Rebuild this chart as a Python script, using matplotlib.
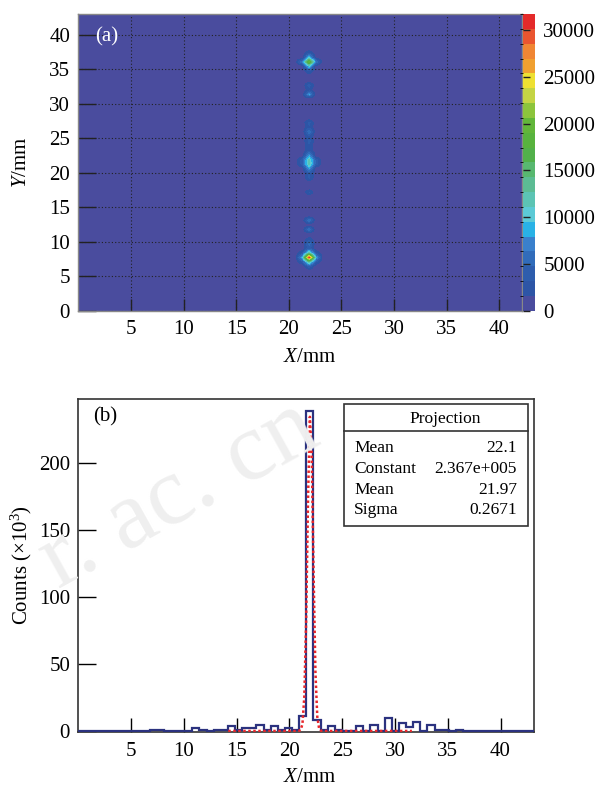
import numpy as np
import matplotlib
matplotlib.use("Agg")
import matplotlib.pyplot as plt
from matplotlib.colors import ListedColormap, BoundaryNorm
from matplotlib.patches import Rectangle

plt.rcParams['font.family'] = ['Liberation Serif', 'DejaVu Serif']
plt.rcParams['mathtext.fontset'] = 'custom'
plt.rcParams['mathtext.rm'] = 'Liberation Serif'
plt.rcParams['mathtext.it'] = 'Liberation Serif:italic'

# ---------------- data ----------------
n_bins = 64
bin_width = 0.675  # mm

# 2D map (a): non-background cells (column index, row index, counts)
spot_col = [32, 32, 32, 31, 33, 32, 32, 31, 33, 31, 33,
            32, 32, 32, 31, 33, 32, 32,
            32, 32, 32, 32, 32, 32, 31, 33, 31, 33,
            32, 32, 32, 32, 32, 32, 32, 32, 32, 32, 32, 32, 32, 32, 32]
spot_row = [11, 10, 12, 11, 11, 9, 13, 10, 10, 12, 12,
            53, 52, 54, 53, 53, 51, 55,
            31, 32, 30, 33, 29, 34, 31, 31, 32, 32,
            46, 48, 47, 38, 40, 39, 36, 37, 35, 28, 25, 19, 17, 14, 15]
spot_val = [31500, 13000, 13000, 9000, 9000, 4000, 4000, 3000, 3000, 3000, 3000,
            21000, 10000, 10000, 7000, 7000, 3500, 3000,
            12500, 12000, 8000, 8000, 3500, 3000, 4000, 4000, 4000, 4000,
            8500, 4200, 2500, 6500, 4000, 3000, 4000, 3000, 3000, 3500, 3500,
            7000, 6500, 6000, 2500]
background_level = 400
map_vmax = 31700
cbar_ticks = [0, 5000, 10000, 15000, 20000, 25000, 30000]
palette = ['#4a4c9e', '#2d55a6', '#2e5dad', '#316cba', '#3a80cc', '#29b2e6',
           '#5ccad6', '#5cc4b4', '#5cbc94', '#58b870', '#52b04a', '#58b33e',
           '#62b63a', '#8cc43c', '#c4d444', '#eee032', '#f0a030', '#f08634',
           '#ea5530', '#e42a2a']

# projection (b): counts (x10^3) per 0.675 mm bin
proj_counts = [0, 0, 0, 0, 0, 0, 0, 0, 0, 0,
               1.0, 1.0, 0, 0, 0, 0, 2.0, 0.8, 0, 0.8,
               0.8, 3.5, 0.8, 2.2, 2.2, 4.7, 0.5, 3.5, 0.8, 2.2,
               0.8, 11.2, 239, 8.5, 0.5, 3.5, 1.0, 0.3, 0.3, 3.5,
               0.3, 4.7, 0, 9.7, 0, 6.0, 3.0, 6.7, 0, 4.2,
               0.5, 0.8, 0, 0.8, 0, 0, 0, 0, 0, 0,
               0, 0, 0, 0]
fit_constant = 236.7   # 2.367e+005 / 1e3
fit_mean = 21.97
fit_sigma = 0.2671
fit_range = (14.2, 31.6)
stats_labels = ['Mean', 'Constant', 'Mean', 'Sigma']
stats_values = ['22.1', '2.367e+005', '21.97', '0.2671']

# ---------------- figure ----------------
W, H = 596, 790
fig = plt.figure(figsize=(W / 100, H / 100), dpi=100)

def fx(px):
    return px / W

def fy(py):
    return 1 - py / H

def rect(l, t, r, b):
    return [fx(l), fy(b), (r - l) / W, (b - t) / H]

FS = 15

# watermark (behind everything)
fig.text(fx(180), fy(495), 'r. ac. cn', fontsize=70, color='#efefef',
         rotation=29, ha='center', va='center', zorder=0)

# ---- panel (a) ----
ax1 = fig.add_axes(rect(78.4, 14, 521.7, 310.7))
grid = np.full((n_bins, n_bins), float(background_level))
for c, r, v in zip(spot_col, spot_row, spot_val):
    grid[r, c] = v
edge_max = n_bins * bin_width
cmap = ListedColormap(palette)
cmap.set_under(palette[0])
cmap.set_over(palette[-1])
bounds = np.linspace(0, map_vmax, len(palette) + 1)
norm = BoundaryNorm(bounds, cmap.N)
im = ax1.imshow(grid, origin='lower', extent=(0, edge_max, 0, edge_max),
                cmap=cmap, norm=norm, interpolation='bilinear', aspect='auto')
ax1.set_xlim(0, 42.14)
ax1.set_ylim(0, 43.05)
ax1.set_xticks([5, 10, 15, 20, 25, 30, 35, 40])
ax1.set_yticks([0, 5, 10, 15, 20, 25, 30, 35, 40])
ax1.grid(True, color='#222222', linestyle=(0, (1, 2)), linewidth=0.8)
ax1.tick_params(direction='in', length=9, width=1, labelsize=FS, color='#222222')
ax1.tick_params(axis='y', length=13, pad=6)
ax1.tick_params(axis='x', pad=7)
for s in ax1.spines.values():
    s.set_color('#888888')
    s.set_linewidth(1.0)
ax1.text(fx(95), fy(37), '(a)', transform=fig.transFigure, color='white',
         fontsize=FS, va='center', ha='left')
fig.text(fx(21), fy(162), '$Y$/mm', rotation=90, fontsize=FS, ha='center', va='center')
fig.text(fx(310), fy(357), '$X$/mm', fontsize=FS, ha='center', va='center')

cax = fig.add_axes(rect(522.5, 14, 535, 310.7))
cb = fig.colorbar(im, cax=cax, ticks=cbar_ticks)
cb.outline.set_visible(False)
cax.yaxis.set_ticks_position('left')
cax.tick_params(axis='y', direction='in', length=5, width=1, color='#222222',
                left=True, right=False, labelleft=False, labelright=True,
                labelsize=FS, pad=6)
cax.set_yticklabels([str(t) for t in cbar_ticks])

# ---- panel (b) ----
ax2 = fig.add_axes(rect(78.4, 398.7, 534.3, 732.3))
ax2.patch.set_alpha(0)
edges = np.arange(n_bins + 1) * bin_width
ax2.stairs(proj_counts, edges, baseline=None, color='#2b327f', linewidth=1.6, zorder=3)
xf = np.linspace(fit_range[0], fit_range[1], 100)
yf = fit_constant * np.exp(-0.5 * ((xf - fit_mean) / fit_sigma) ** 2)
ax2.plot(xf, yf, color='#e8262a', linestyle=(0, (1, 1)), linewidth=1.8, zorder=4)
ax2.set_xlim(0, 43.2)
ax2.set_ylim(-1, 248)
ax2.set_xticks([5, 10, 15, 20, 25, 30, 35, 40])
ax2.set_yticks([0, 50, 100, 150, 200])
ax2.tick_params(direction='in', length=10, width=1, labelsize=FS, color='black')
ax2.tick_params(axis='y', length=13, pad=6)
ax2.tick_params(axis='x', pad=7)
for s in ax2.spines.values():
    s.set_color('#333333')
    s.set_linewidth(1.2)
fig.text(fx(105), fy(417), '(b)', fontsize=FS, ha='center', va='center')
fig.text(fx(21), fy(565), 'Counts (×10$^3$)', rotation=90, fontsize=FS,
         ha='center', va='center')
fig.text(fx(310), fy(777), '$X$/mm', fontsize=FS, ha='center', va='center')

# stats box
box = Rectangle((fx(344), fy(526)), (528 - 344) / W, (526 - 404) / H,
                transform=fig.transFigure, facecolor='white', edgecolor='#333333',
                linewidth=1.2, zorder=5)
fig.add_artist(box)
fig.add_artist(plt.Line2D([fx(344), fx(528)], [fy(431), fy(431)],
                          transform=fig.transFigure, color='#333333', linewidth=1.2, zorder=6))
fig.text(fx(445), fy(419), 'Projection', fontsize=12.5, ha='center', va='center', zorder=7)
rows_y = [448, 469, 490, 510]
for lab, val, yy in zip(stats_labels, stats_values, rows_y):
    fig.text(fx(354), fy(yy), lab, fontsize=12.5, ha='left', va='center', zorder=7)
    fig.text(fx(517), fy(yy), val, fontsize=12.5, ha='right', va='center', zorder=7)

fig.savefig('out.png', dpi=100)
